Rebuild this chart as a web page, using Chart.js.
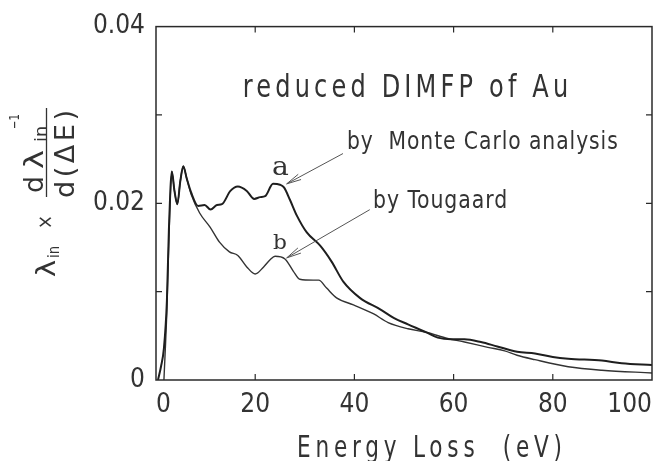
<!DOCTYPE html>
<html>
<head>
<meta charset="utf-8">
<script src="https://cdn.jsdelivr.net/npm/chart.js@4/dist/chart.umd.min.js"></script>
<style>
html,body{margin:0;padding:0;background:#fff;}
#wrap{width:666px;height:461px;}
</style>
</head>
<body>
<div id="wrap"><canvas id="c" width="666" height="461"></canvas></div>
<script>
// ---- data ----
const energyA = [0.4,1.0,1.6,2.2,2.6,3.2,3.7,4.3,4.9,5.5,6.2,7.1,8.5,9.8,11.0,12.3,13.3,15.0,16.5,18.3,19.8,21.0,22.0,23.6,25.0,25.8,27.0,28.4,30.4,33.1,35.4,37.8,41.1,45.2,48.0,50.8,54.5,56.8,59.5,62.2,65.5,68.8,72.8,76.4,80.0,83.1,89.9,93.9,100];
const dimfpA  = [0,0.0015,0.0036,0.009,0.017,0.0236,0.0215,0.0199,0.0225,0.0242,0.0228,0.0212,0.0197,0.0198,0.0193,0.0198,0.0199,0.0214,0.0219,0.0214,0.0205,0.0207,0.0208,0.0222,0.0221,0.0218,0.0204,0.0186,0.0167,0.0152,0.0134,0.0111,0.0093,0.0080,0.0070,0.0063,0.0054,0.0048,0.0046,0.0046,0.0043,0.0038,0.0032,0.0030,0.0026,0.0024,0.0022,0.0019,0.0017];
const energyB = [1.6,2.2,2.6,3.2,3.7,4.3,4.9,5.5,6.2,7.1,8.8,10.9,12.8,14.8,16.5,18.3,20.0,21.7,23.0,24.0,26.0,27.7,29.0,31.7,32.8,34.4,36.4,39.8,43.8,46.8,50.8,54.5,58.8,62.2,66.9,70.3,72.8,76.4,83.1,89.9,100];
const dimfpB  = [0,0.008,0.016,0.0236,0.0215,0.0199,0.0225,0.0242,0.0228,0.0210,0.0189,0.0173,0.0156,0.0145,0.0141,0.0128,0.0120,0.0128,0.0136,0.0140,0.0137,0.0123,0.0114,0.0113,0.0113,0.0104,0.0093,0.0085,0.0075,0.0065,0.0058,0.0054,0.0047,0.0043,0.0037,0.0033,0.0028,0.0023,0.0015,0.0011,0.0008];
const seriesNames = ['by  Monte Carlo analysis', 'by Tougaard'];
const seriesTags  = ['a', 'b'];
const xTickValues = [0, 20, 40, 60, 80, 100];
const xTickLabels = ['0', '20', '40', '60', '80', '100'];
const yTickValues = [0, 0.01, 0.02, 0.03, 0.04];
const yTickLabels = ['0', '', '0.02', '', '0.04'];
const chartTitle  = 'reduced DIMFP of Au';
const xAxisTitle  = 'Energy Loss  (eV)';

// ---- styling ----
const FAM  = '"DejaVu Sans Condensed", "DejaVu Sans", sans-serif';
const SERIF = '"DejaVu Serif", "Liberation Serif", serif';
const INK  = '#333';

function fitText(ctx, text, left, right, baseline, size, family, spacing) {
  ctx.save();
  ctx.font = size + 'px ' + family;
  ctx.letterSpacing = (spacing || 0) + 'px';
  ctx.textAlign = 'left';
  ctx.textBaseline = 'alphabetic';
  const w = ctx.measureText(text).width - (spacing || 0);
  const sx = (right - left) / w;
  ctx.translate(left, baseline);
  ctx.scale(sx, 1);
  ctx.fillText(text, 0, 0);
  ctx.restore();
}

function arrow(ctx, x1, y1, x2, y2) {
  ctx.beginPath();
  ctx.moveTo(x1, y1);
  ctx.lineTo(x2, y2);
  const ang = Math.atan2(y1 - y2, x1 - x2);
  const L = 15;
  [-0.2, 0.2].forEach(s => {
    ctx.moveTo(x2, y2);
    ctx.lineTo(x2 + L * Math.cos(ang + s), y2 + L * Math.sin(ang + s));
  });
  ctx.stroke();
}

const decor = {
  id: 'decor',
  afterDatasetsDraw(chart) {
    const ctx = chart.ctx, xs = chart.scales.x, ys = chart.scales.y, a = chart.chartArea;
    const X = v => xs.getPixelForValue(v), Y = v => ys.getPixelForValue(v);
    ctx.save();
    // frame
    ctx.strokeStyle = '#2a2a2a';
    ctx.lineWidth = 1.5;
    ctx.strokeRect(a.left, a.top, a.right - a.left, a.bottom - a.top);
    // inward tick marks
    ctx.lineWidth = 1.2;
    ctx.beginPath();
    xTickValues.slice(1, -1).forEach(v => {
      const px = X(v);
      ctx.moveTo(px, a.bottom); ctx.lineTo(px, a.bottom - 6);
      ctx.moveTo(px, a.top); ctx.lineTo(px, a.top + 6);
    });
    yTickValues.slice(1, -1).forEach(v => {
      const py = Y(v);
      ctx.moveTo(a.left, py); ctx.lineTo(a.left + 6, py);
      ctx.moveTo(a.right, py); ctx.lineTo(a.right - 6, py);
    });
    ctx.stroke();

    // texts inside the plot
    ctx.fillStyle = INK;
    fitText(ctx, chartTitle, X(17.5), X(83.1), Y(0.0320), 32, FAM, 5);
    fitText(ctx, seriesNames[0], X(38.5), X(93.1), Y(0.0262), 24, FAM, 1);
    fitText(ctx, seriesNames[1], X(43.75), X(70.8), Y(0.0195), 24, FAM, 1);
    fitText(ctx, seriesTags[0], X(23.4), X(26.8), Y(0.0232), 26, SERIF, 0);
    fitText(ctx, seriesTags[1], X(23.6), X(26.4), Y(0.01485), 21, SERIF, 0);

    // arrows
    ctx.strokeStyle = '#555';
    ctx.lineWidth = 1;
    arrow(ctx, X(37.7), Y(0.02563), X(26.35), Y(0.0222));
    arrow(ctx, X(43.1), Y(0.01928), X(26.35), Y(0.01382));

    // x-axis title
    ctx.fillStyle = INK;
    fitText(ctx, xAxisTitle, 297, 562, 457, 30, FAM, 6);

    // y-axis title (rotated fraction)
    ctx.save();
    ctx.rotate(-Math.PI / 2);
    // lambda_in x
    fitText(ctx, 'λ', -277, -260, 55, 27, FAM, 0);
    fitText(ctx, 'in', -258, -246, 59, 16, FAM, 0);
    fitText(ctx, '×', -229, -215, 52, 22, FAM, 0);
    // numerator  d lambda_in ^-1
    fitText(ctx, 'd', -193, -176, 43, 26, FAM, 0);
    fitText(ctx, 'λ', -169, -150, 43, 26, FAM, 0);
    fitText(ctx, 'in', -142, -126, 46, 16, FAM, 0);
    fitText(ctx, '−1', -129, -114, 19, 14, FAM, 0);
    // fraction bar
    ctx.strokeStyle = INK;
    ctx.lineWidth = 1.3;
    ctx.beginPath();
    ctx.moveTo(-197, 46.5); ctx.lineTo(-108, 46.5);
    ctx.stroke();
    // denominator d(ΔE)
    fitText(ctx, 'd(ΔE)', -198, -110, 74, 26, FAM, 3);
    ctx.restore();

    ctx.restore();
  }
};

new Chart(document.getElementById('c'), {
  type: 'line',
  data: {
    datasets: [
      {
        label: seriesNames[0],
        data: energyA.map((x, i) => ({ x, y: dimfpA[i] })),
        borderColor: '#1e1e1e',
        borderWidth: 2,
        pointRadius: 0,
        fill: false,
        cubicInterpolationMode: 'monotone'
      },
      {
        label: seriesNames[1],
        data: energyB.map((x, i) => ({ x, y: dimfpB[i] })),
        borderColor: '#333',
        borderWidth: 1.4,
        pointRadius: 0,
        fill: false,
        cubicInterpolationMode: 'monotone'
      }
    ]
  },
  options: {
    responsive: false,
    animation: false,
    devicePixelRatio: 1,
    layout: { padding: { top: 21, right: 14, left: 0, bottom: 0 } },
    plugins: { legend: { display: false }, tooltip: { enabled: false }, title: { display: false } },
    scales: {
      x: {
        type: 'linear', min: 0, max: 100,
        afterBuildTicks: s => { s.ticks = xTickValues.map(v => ({ value: v })); },
        afterFit: s => { s.height = 81; },
        grid: { display: false, drawTicks: false },
        border: { display: false },
        ticks: {
          align: 'inner', maxRotation: 0, autoSkip: false,
          font: { family: FAM, size: 26 }, color: INK, padding: 10,
          callback: (v, i) => xTickLabels[i]
        }
      },
      y: {
        type: 'linear', min: 0, max: 0.04,
        afterBuildTicks: s => { s.ticks = yTickValues.map(v => ({ value: v })); },
        afterFit: s => { s.width = 156; },
        grid: { display: false, drawTicks: false },
        border: { display: false },
        ticks: {
          autoSkip: false,
          font: { family: FAM, size: 26 }, color: INK, padding: 11,
          callback: (v, i) => yTickLabels[i]
        }
      }
    }
  },
  plugins: [decor]
});
</script>
</body>
</html>
